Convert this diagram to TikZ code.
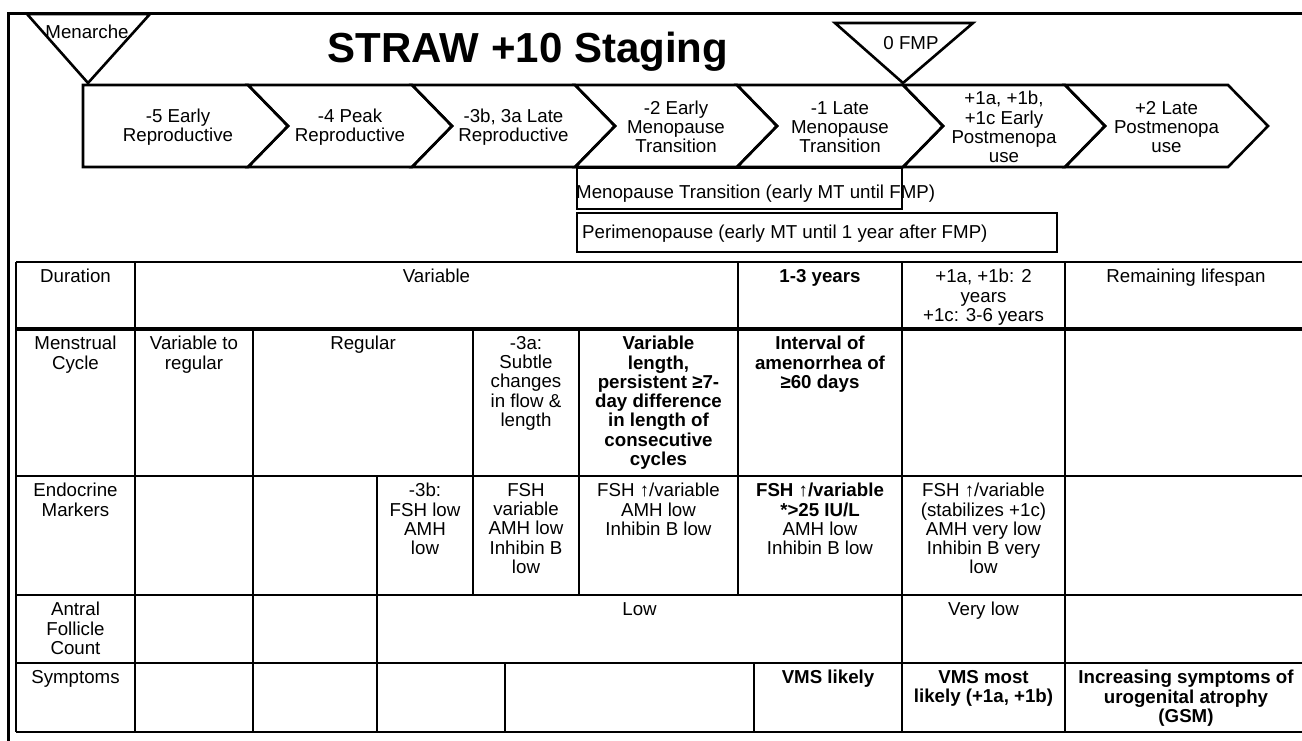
\documentclass[tikz,border=0pt]{standalone}
\usepackage{fontspec}
\setmainfont{Liberation Sans}
\usepackage{tikz}
\usetikzlibrary{positioning,calc}

\begin{document}
\begin{tikzpicture}[
            x=1pt, y=-1pt,
            stage/.style={draw, line width=2.6pt, line join=miter},
            stagetxt/.style={align=center, inner sep=0pt, font=\fontsize{18.7}{19.3}\selectfont},
            cell/.style={align=center, inner sep=0pt, anchor=north, font=\fontsize{18.7}{19.3}\selectfont},
            boldcell/.style={cell, font=\fontsize{18.7}{19.3}\selectfont\bfseries},
            tabline/.style={line width=1.4pt},
            bar/.style={draw, line width=2.8pt}
        ]
            \useasboundingbox (0,0) rectangle (1302,740);

            % Frame and title
            \draw[line width=3pt] (8,745) -- (8,13) -- (1310,13);
            \node[font=\fontsize{42}{45}\selectfont\bfseries, anchor=base] (title) at (528,62) {STRAW +10 Staging};

            % Anchor events
            \draw[stage] (27,14) -- (150,14) -- (88,83) -- cycle;
            \node[stagetxt, anchor=base] (menarche) at (87,38.6) {Menarche};
            \draw[stage] (835,23) -- (973,23) -- (903,83) -- cycle;
            \node[stagetxt, anchor=base] (fmp) at (911,49.6) {0 FMP};

            % Stages
            \draw[stage] (83,85) -- (248,85) -- (288,126) -- (248,167) -- (83,167) -- cycle;
            \foreach \a/\b in {248/412, 412/575, 575/737, 737/903, 903/1065, 1065/1228}
                \draw[stage] (\a,85) -- (\b,85) -- (\b+40,126) -- (\b,167) -- (\a,167) -- (\a+40,126) -- cycle;

            \node[stagetxt] (s5) at (178,127) {-5 Early\\Reproductive};
            \node[stagetxt] (s4) at (350,127) {-4 Peak\\Reproductive};
            \node[stagetxt] (s3) at (513.5,127) {-3b, 3a Late\\Reproductive};
            \node[stagetxt] (s2) at (676,127) {-2 Early\\Menopause\\Transition};
            \node[stagetxt] (s1) at (840,127) {-1 Late\\Menopause\\Transition};
            \node[stagetxt] (sp1) at (1004,127) {+1a, +1b,\\+1c Early\\Postmenopa\\use};
            \node[stagetxt] (sp2) at (1166.5,127) {+2 Late\\Postmenopa\\use};

            % Spans
            \node[stagetxt, anchor=base west] (mtlbl) at (576,198.6) {Menopause Transition (early MT until FMP)};
            \draw[bar] (577,168) rectangle (902,209);
            \node[stagetxt, anchor=base west] (perilbl) at (582,238.6) {Perimenopause (early MT until 1 year after FMP)};
            \draw[bar] (577,213) rectangle (1057,252);

            % Table grid
            \foreach \y in {262,476,595,663,732}
                \draw[tabline] (16,\y) -- (1310,\y);
            \draw[line width=4pt] (16,329) -- (1310,329);
            \foreach \x in {16,135,902,1065}
                \draw[tabline] (\x,262) -- (\x,732);
            \draw[tabline] (738,262) -- (738,595);
            \draw[tabline] (253,329) -- (253,732);
            \draw[tabline] (473,329) -- (473,595);
            \draw[tabline] (579,329) -- (579,595);
            \draw[tabline] (377,476) -- (377,732);
            \draw[tabline] (505,663) -- (505,732);
            \draw[tabline] (754,663) -- (754,732);

            % Duration
            \node[cell] (durlbl) at (75.5,269) {Duration};
            \node[cell] (durvar) at (436.5,269) {Variable};
            \node[boldcell] (durmt) at (820,269) {1-3 years};
            \node[cell] (durpost) at (983.5,269) {+1a, +1b: 2\\years\\+1c: 3-6 years};
            \node[cell] (durlate) at (1186,269) {Remaining lifespan};

            % Menstrual cycle
            \node[cell] (menlbl) at (75.5,336) {Menstrual\\Cycle};
            \node[cell] (menearly) at (194,336) {Variable to\\regular};
            \node[cell] (menpeak) at (363,336) {Regular};
            \node[cell] (menlate) at (526,336) {-3a:\\Subtle\\changes\\in flow \&\\length};
            \node[boldcell] (menmt2) at (658.5,336) {Variable\\length,\\persistent ≥7-\\day difference\\in length of\\consecutive\\cycles};
            \node[boldcell] (menmt1) at (820,336) {Interval of\\amenorrhea of\\≥60 days};

            % Endocrine
            \node[cell] (endlbl) at (75.5,483) {Endocrine\\Markers};
            \node[cell] (end3b) at (425,483) {-3b:\\FSH low\\AMH\\low};
            \node[cell] (end3a) at (526,483) {FSH\\variable\\AMH low\\Inhibin B\\low};
            \node[cell] (endmt2) at (658.5,483) {FSH ↑/variable\\AMH low\\Inhibin B low};
            \node[cell] (endmt1) at (820,483) {\textbf{FSH ↑/variable}\\\textbf{*>25 IU/L}\\AMH low\\Inhibin B low};
            \node[cell] (endpost) at (983.5,483) {FSH ↑/variable\\(stabilizes +1c)\\AMH very low\\Inhibin B very\\low};

            % Antral follicle count
            \node[cell] (afclbl) at (75.5,602) {Antral\\Follicle\\Count};
            \node[cell] (afclow) at (639.5,602) {Low};
            \node[cell] (afcpost) at (983.5,602) {Very low};

            % Symptoms
            \node[cell] (symlbl) at (75.5,670) {Symptoms};
            \node[boldcell] (symmt1) at (828,670) {VMS likely};
            \node[boldcell] (sympost) at (983.5,670) {VMS most\\likely (+1a, +1b)};
            \node[boldcell] (symlate) at (1186,670) {Increasing symptoms of\\urogenital atrophy\\(GSM)};
        \end{tikzpicture}
\end{document}
